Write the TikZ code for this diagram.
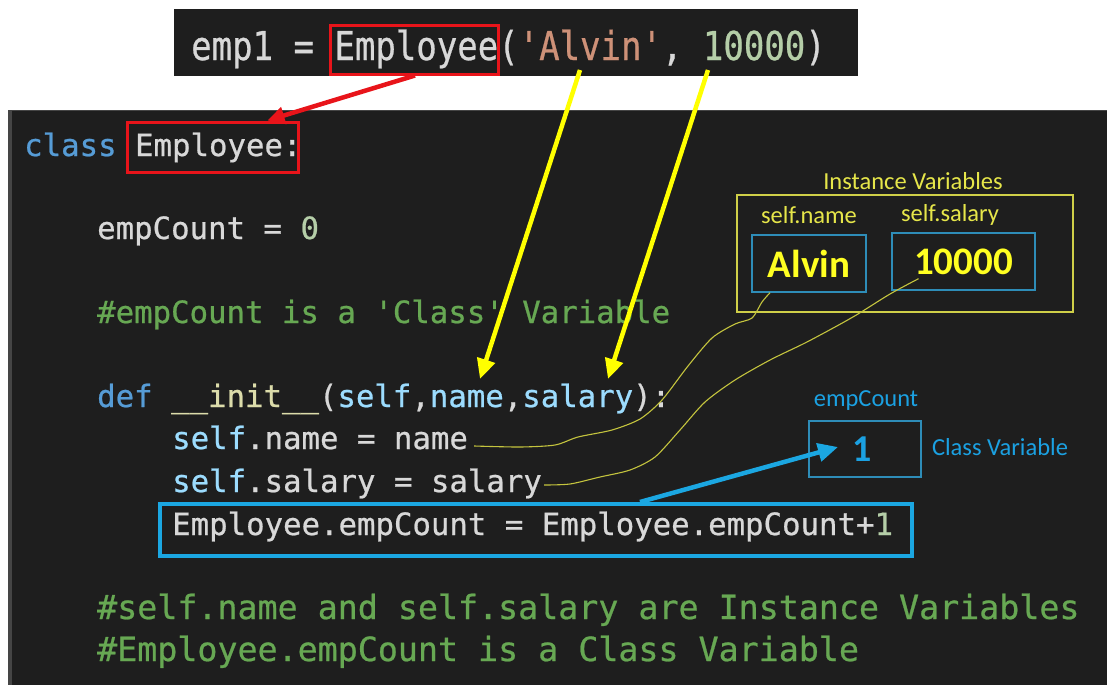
\documentclass[tikz,border=0pt]{standalone}
\usepackage{fontspec}
\setmainfont{Carlito}
\setmonofont{DejaVu Sans Mono}[BoldFont=DejaVu Sans Mono, BoldFeatures={FakeBold=0.7}]
\usetikzlibrary{arrows.meta,calc}
\definecolor{bgdark}{HTML}{1E1E1E}
\definecolor{stripe}{HTML}{454545}
\definecolor{cw}{HTML}{D8D8D8}
\definecolor{kw}{HTML}{569CD6}
\definecolor{vb}{HTML}{9CDCFE}
\definecolor{fn}{HTML}{DCDCAA}
\definecolor{str}{HTML}{CE9178}
\definecolor{num}{HTML}{B5CEA8}
\definecolor{com}{HTML}{67A853}
\definecolor{redc}{HTML}{E8141A}
\definecolor{yelA}{HTML}{FFFF00}
\definecolor{labY}{HTML}{E6E64A}
\definecolor{valY}{HTML}{FFFF22}
\definecolor{ivline}{HTML}{CFCF48}
\definecolor{valline}{HTML}{2E8DB8}
\definecolor{bluec}{HTML}{1BA7E2}
\definecolor{bluelab}{HTML}{1BA1E2}
\definecolor{wave}{HTML}{C4C43E}
\begin{document}
\begin{tikzpicture}[x=1pt,y=-1pt,
  code/.style={anchor=base west, inner sep=0pt, text=cw, font=\ttfamily\bfseries\fontsize{30.7}{36}\selectfont},
  bigcode/.style={anchor=base west, inner sep=0pt, text=com, font=\ttfamily\bfseries\fontsize{33.3}{40}\selectfont},
  redbox/.style={draw=redc, line width=3pt, inner sep=0pt},
  redarrow/.style={draw=redc, line width=4.5pt, -{Triangle[length=17pt,width=17pt]}},
  yelarrow/.style={draw=yelA, line width=4.5pt, -{Triangle[length=20pt,width=18pt]}},
  bluearrow/.style={draw=bluec, line width=4.5pt, -{Triangle[length=20pt,width=18pt]}},
  bluebox/.style={draw=bluec, line width=4pt, inner sep=0pt},
  ivbox/.style={draw=ivline, line width=1.4pt, inner sep=0pt},
  valbox/.style={draw=valline, line width=1.4pt, inner sep=0pt, text=valY, font=\bfseries\fontsize{39}{44}\selectfont},
  ylab/.style={inner sep=0pt, text=labY, font=\fontsize{24.5}{28}\selectfont},
  blab/.style={inner sep=0pt, text=bluelab, font=\fontsize{24.5}{28}\selectfont},
  cbox/.style={draw=valline, line width=1.4pt, inner sep=0pt, text=bluelab, font=\bfseries\fontsize{38}{42}\selectfont},
  wavy/.style={draw=wave, line width=1.1pt}
]
\useasboundingbox (0,0) rectangle (1107,685);
\fill[white] (0,0) rectangle (1107,685);
% main panel
\fill[bgdark] (8,110) rectangle (1107,685);
\fill[stripe] (8,110) rectangle (12,685);
\draw[stripe, line width=1.5pt] (8,110.7) -- (1107,110.7);
% top bar
\fill[bgdark] (174,9) rectangle (858,76);
\node[anchor=base west, inner sep=0pt, text=cw, font=\ttfamily\bfseries\fontsize{34}{40}\selectfont] (top) at (191,60)
  {\scalebox{1}[1.17]{emp1 = Employee(\textcolor{str}{'Alvin'}, \textcolor{num}{10000})}};
\node[redbox, minimum width=168pt, minimum height=48pt] (topbox) at (414,50) {};

% code lines
\node[code] (l1) at (24,156) {\textcolor{kw}{class} Employee:};
\node[redbox, minimum width=171pt, minimum height=50pt] (clsbox) at (212.5,147) {};
\node[code] (l2) at (97,239) {empCount = \textcolor{num}{0}};
\node[code, text=com] (l3) at (97,323) {\#empCount is a 'Class' Variable};
\node[code] (l4) at (97,407) {\textcolor{kw}{def} \textcolor{fn}{\_\_init\_\_}(\textcolor{vb}{self},\textcolor{vb}{name},\textcolor{vb}{salary}):};
\node[code] (l5) at (172,449) {\textcolor{vb}{self}.name = name};
\node[code] (l6) at (172,492) {\textcolor{vb}{self}.salary = salary};
\node[code] (l7) at (172,535) {Employee.empCount = Employee.empCount+\textcolor{num}{1}};
\node[bigcode] (l8) at (97,619) {\#self.name and self.salary are Instance Variables};
\node[bigcode] (l9) at (97,661) {\#Employee.empCount is a Class Variable};
\node[bluebox, minimum width=752pt, minimum height=52pt] (cntbox) at (536,530) {};

% instance variables panel
\node[ivbox, minimum width=336pt, minimum height=117pt] (ivb) at (905,253.5) {};
\node[ylab] (ivt) at (913,181) {Instance Variables};
\node[ylab] (sn) at (809,215) {self.name};
\node[ylab] (ss) at (950,215) {self.salary};
\node[valbox, minimum width=114pt, minimum height=57pt] (alv) at (809,263.5) {Alvin};
\node[valbox, minimum width=143pt, minimum height=57pt] (sal) at (963.5,261.5) {10000};

% class variable panel
\node[blab] (ecl) at (866,401) {empCount};
\node[cbox, minimum width=112pt, minimum height=56pt] (ecb) at (865,449) {\hspace*{-5pt}1};
\node[blab] (cv) at (1000,447) {Class Variable};

% arrows
\draw[redarrow] ($(topbox.south)+(1,0)$) -- ($(clsbox.north)+(55,0)$);
\coordinate (ya1) at (580,70);
\coordinate (ya2) at (708,70);
\coordinate (pname) at (480,379);
\coordinate (psal) at (608,379);
\draw[yelarrow] (ya1) -- (pname);
\draw[yelarrow] (ya2) -- (psal);
\draw[bluearrow] ($(cntbox.north)+(104,0)$) -- ($(ecb.center)+(-27,-2)$);

% hand-drawn links
\coordinate (w1s) at ($(l5.base east)+(6,-3)$);
\coordinate (w1e) at ($(alv.south)+(-39,0)$);
\coordinate (w2s) at ($(l6.base east)+(2,-7)$);
\coordinate (w2e) at ($(sal.south)+(-45,-12)$);
\draw[wavy] plot[smooth, tension=0.45] coordinates {(w1s) (520,447) (555,445) (578,437) (612,430) (640,419) (662,400) (688,366) (712,338) (735,324) (752,318) (762,302) (w1e)};
\draw[wavy] plot[smooth, tension=0.45] coordinates {(w2s) (570,484) (600,477) (630,470) (655,457) (680,430) (705,402) (735,380) (770,360) (805,343) (835,327) (858,314) (890,294) (w2e)};
\end{tikzpicture}
\end{document}
